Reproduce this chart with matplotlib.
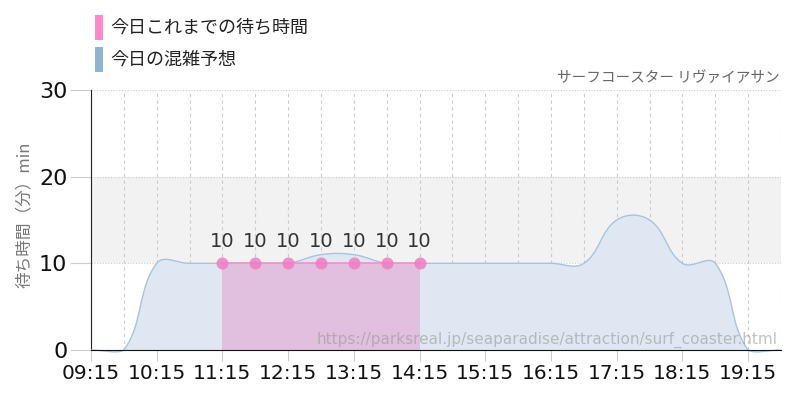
import numpy as np
import matplotlib
matplotlib.use("Agg")
import matplotlib.pyplot as plt
from matplotlib.path import Path
from matplotlib.patches import PathPatch, Rectangle

plt.rcParams['font.family'] = ['Noto Sans CJK JP', 'DejaVu Sans']

# forecast (30 min steps, 09:15 .. 19:45)
forecast_times = [9.25, 9.75, 10.25, 10.75, 11.25, 11.75, 12.25, 12.75, 13.25, 13.75,
                  14.25, 14.75, 15.25, 15.75, 16.25, 16.75, 17.25, 17.75, 18.25, 18.75,
                  19.25, 19.75]
forecast_waits = [0, 0, 10, 10, 10, 10, 10, 11, 11, 10,
                  10, 10, 10, 10, 10, 10, 15, 15, 10, 10,
                  0, 0]

# actual waits so far
actual_times = [11.25, 11.75, 12.25, 12.75, 13.25, 13.75, 14.25]
actual_waits = [10, 10, 10, 10, 10, 10, 10]

tick_hours = [9.25, 10.25, 11.25, 12.25, 13.25, 14.25, 15.25, 16.25, 17.25, 18.25, 19.25]
tick_labels = ['09:15', '10:15', '11:15', '12:15', '13:15', '14:15', '15:15',
               '16:15', '17:15', '18:15', '19:15']

title_right = 'サーフコースター リヴァイアサン'
legend_labels = ['今日これまでの待ち時間', '今日の混雑予想']
url_text = 'https://parksreal.jp/seaparadise/attraction/surf_coaster.html'
ylabel_text = '待ち時間（分）min'


def spline_path(xs, ys, sx, sy, tension=0.4, ymin=-0.5):
    '''
    Builds a smooth bezier path through the points (chart.js style control points).
    sx, sy scale data to pixels so the distances behave like on screen.
    '''
    px = np.array(xs, float) * sx
    py = np.array(ys, float) * sy
    n = len(px)
    verts = [(xs[0], ys[0])]
    codes = [Path.MOVETO]
    cps = []
    for i in range(n):
        p = (px[max(i - 1, 0)], py[max(i - 1, 0)])
        c = (px[i], py[i])
        nx = (px[min(i + 1, n - 1)], py[min(i + 1, n - 1)])
        d01 = np.hypot(c[0] - p[0], c[1] - p[1])
        d12 = np.hypot(nx[0] - c[0], nx[1] - c[1])
        tot = d01 + d12
        s01 = d01 / tot if tot else 0
        s12 = d12 / tot if tot else 0
        fa, fb = tension * s01, tension * s12
        prev_cp = (c[0] - fa * (nx[0] - p[0]), max(c[1] - fa * (nx[1] - p[1]), ymin * sy))
        next_cp = (c[0] + fb * (nx[0] - p[0]), max(c[1] + fb * (nx[1] - p[1]), ymin * sy))
        cps.append((prev_cp, next_cp))
    for i in range(1, n):
        a = cps[i - 1][1]
        b = cps[i][0]
        verts += [(a[0] / sx, a[1] / sy), (b[0] / sx, b[1] / sy), (xs[i], ys[i])]
        codes += [Path.CURVE4] * 3
    return verts, codes


fig = plt.figure(figsize=(8, 4), dpi=100)
ax = fig.add_axes([0.11375, 0.125, 0.8625, 0.65])
ax.set_xlim(9.25, 19.75)
ax.set_ylim(0, 30)

# grey band 10-20
ax.axhspan(10, 20, color='#f2f2f2', zorder=0, lw=0)

# grid
for h in np.arange(9.25, 19.8, 0.5):
    ax.axvline(h, color='#cccccc', lw=0.8, ls=(0, (3, 3)), zorder=1)
for v in [10, 20, 30]:
    ax.axhline(v, color='#cccccc', lw=0.8, ls=(0, (1, 1.5)), zorder=1)

sx, sy = 65.6, 8.67
verts, codes = spline_path(forecast_times, forecast_waits, sx, sy)
line_path = Path(verts, codes)
fill_verts = verts + [(forecast_times[-1], 0), (forecast_times[0], 0), verts[0]]
fill_codes = codes + [Path.LINETO, Path.LINETO, Path.CLOSEPOLY]
ax.add_patch(PathPatch(Path(fill_verts, fill_codes), facecolor='#dfe8f2', edgecolor='none',
                       zorder=2, clip_on=False))
ax.add_patch(PathPatch(line_path, facecolor='none', edgecolor='#a9c3dc', lw=1.0,
                       zorder=3, clip_on=False))

# actual
ax.fill_between(actual_times, actual_waits, 0, color='#e0c0de', lw=0, zorder=4)
ax.plot(actual_times, actual_waits, color='#ff88cc', lw=1.2, zorder=5)
ax.scatter(actual_times, actual_waits, s=75, color='#f07cc4', alpha=0.85, lw=0, zorder=6)
for t, w in zip(actual_times, actual_waits):
    ax.text(t, w + 1.4, str(w), ha='center', va='bottom', family='DejaVu Sans',
            fontsize=14, color='#333333', zorder=7)

# axes styling
for s in ['top', 'right']:
    ax.spines[s].set_visible(False)
ax.spines['left'].set_color('#222222')
ax.spines['bottom'].set_color('#111111')
ax.spines['bottom'].set_zorder(8)
ax.set_yticks([0, 10, 20, 30])
ax.set_xticks(tick_hours)
ax.set_xticklabels(tick_labels)
ax.tick_params(axis='y', length=15, color='#cccccc', width=0.8, pad=2)
ax.tick_params(axis='x', length=8, color='#cccccc', width=0.8, pad=2)
for lab in ax.get_xticklabels() + ax.get_yticklabels():
    lab.set_family('DejaVu Sans')
    lab.set_color('#111111')
for lab in ax.get_yticklabels():
    lab.set_fontsize(16)
for lab in ax.get_xticklabels():
    lab.set_fontsize(14.5)

# texts
fig.text(0.03, 0.4625, ylabel_text, rotation=90, ha='center', va='center',
         fontsize=12, color='#777777')
fig.text(0.975, 0.805, title_right, ha='right', va='center', fontsize=10.5, color='#666666')
ax.text(0.995, 0.04, url_text, transform=ax.transAxes, ha='right', va='center',
        fontsize=11, color='#999999', alpha=0.6, zorder=9,
        family=['DejaVu Sans'])

# legend boxes
leg_colors = ['#ff88cc', '#8fb2d0']
for i, (lab, col) in enumerate(zip(legend_labels, leg_colors)):
    y0 = 0.9 - i * 0.08
    fig.patches.append(Rectangle((0.119, y0), 0.01, 0.062, transform=fig.transFigure,
                                 color=col, lw=0))
    fig.text(0.138, y0 + 0.031, lab, ha='left', va='center', fontsize=13, color='#222222')

fig.savefig('out.png', dpi=100)
